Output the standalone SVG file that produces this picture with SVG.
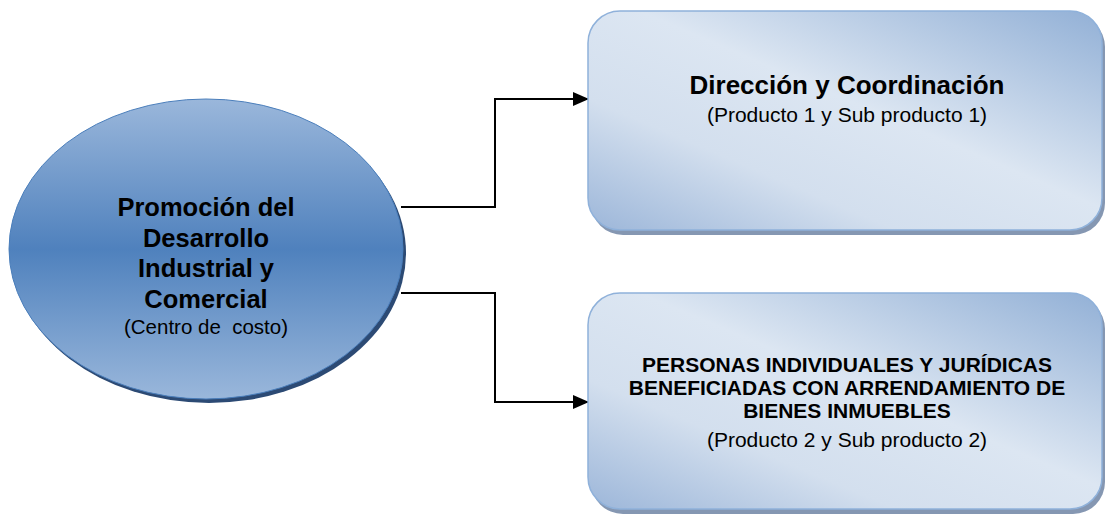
<svg xmlns="http://www.w3.org/2000/svg" width="1107" height="516" viewBox="0 0 1107 516">
<style>
.b{font-family:"Liberation Sans",Arial,sans-serif;font-weight:bold;fill:#000;text-anchor:middle}
.r{font-family:"Liberation Sans",Arial,sans-serif;fill:#000;text-anchor:middle}
.conn{fill:none;stroke:#000;stroke-width:2}
.box{fill:url(#boxg);stroke:#8fb1da;stroke-width:1.5}
.bshadow{fill:#8597b2}
</style>
<defs>
<linearGradient id="ellg" x1="0" y1="0" x2="0" y2="1">
<stop offset="0" stop-color="#9ab7db"/>
<stop offset="0.5" stop-color="#4f81bd"/>
<stop offset="1" stop-color="#9ab7db"/>
</linearGradient>
<linearGradient id="boxg" x1="0" y1="1" x2="1" y2="0">
<stop offset="0" stop-color="#9cb6d9"/>
<stop offset="0.3" stop-color="#d3dfee"/>
<stop offset="0.55" stop-color="#dce6f2"/>
<stop offset="1" stop-color="#92b0d6"/>
</linearGradient>
<marker id="arr" markerUnits="userSpaceOnUse" markerWidth="16" markerHeight="14" refX="16" refY="7" orient="auto">
<path d="M0,0 L16,7 L0,14 z" fill="#000"/>
</marker>
</defs>
<g id="connectors">
<polyline class="conn" points="401,207 495,207 495,99 589,99" marker-end="url(#arr)"/>
<polyline class="conn" points="401,293 495,293 495,402 589,402" marker-end="url(#arr)"/>
</g>
<g id="node-centro">
<ellipse cx="209" cy="253" rx="197" ry="150" fill="#2c4a74"/>
<ellipse cx="206" cy="249" rx="197" ry="150" fill="url(#ellg)" stroke="#4a7ebb" stroke-width="1"/>
<text class="b" x="206" y="216" font-size="25.5">Promoción del</text>
<text class="b" x="206" y="247" font-size="25.5">Desarrollo</text>
<text class="b" x="206" y="277" font-size="25.5">Industrial y</text>
<text class="b" x="206" y="308" font-size="25.5">Comercial</text>
<text class="r" x="206" y="334" font-size="20.5" xml:space="preserve">(Centro de  costo)</text>
</g>
<g id="node-direccion">
<rect class="bshadow" x="591" y="15" width="514" height="220" rx="32"/>
<rect class="box" x="588" y="11" width="514" height="219" rx="32"/>
<text class="b" x="847" y="94" font-size="26">Dirección y Coordinación</text>
<text class="r" x="847" y="122" font-size="21">(Producto 1 y Sub producto 1)</text>
</g>
<g id="node-personas">
<rect class="bshadow" x="591" y="297" width="514" height="217" rx="32"/>
<rect class="box" x="588" y="293" width="514" height="216" rx="32"/>
<text class="b" x="847" y="372" font-size="21">PERSONAS INDIVIDUALES Y JURÍDICAS</text>
<text class="b" x="847" y="395" font-size="21">BENEFICIADAS CON ARRENDAMIENTO DE</text>
<text class="b" x="847" y="418" font-size="21">BIENES INMUEBLES</text>
<text class="r" x="847" y="447" font-size="21">(Producto 2 y Sub producto 2)</text>
</g>
</svg>
